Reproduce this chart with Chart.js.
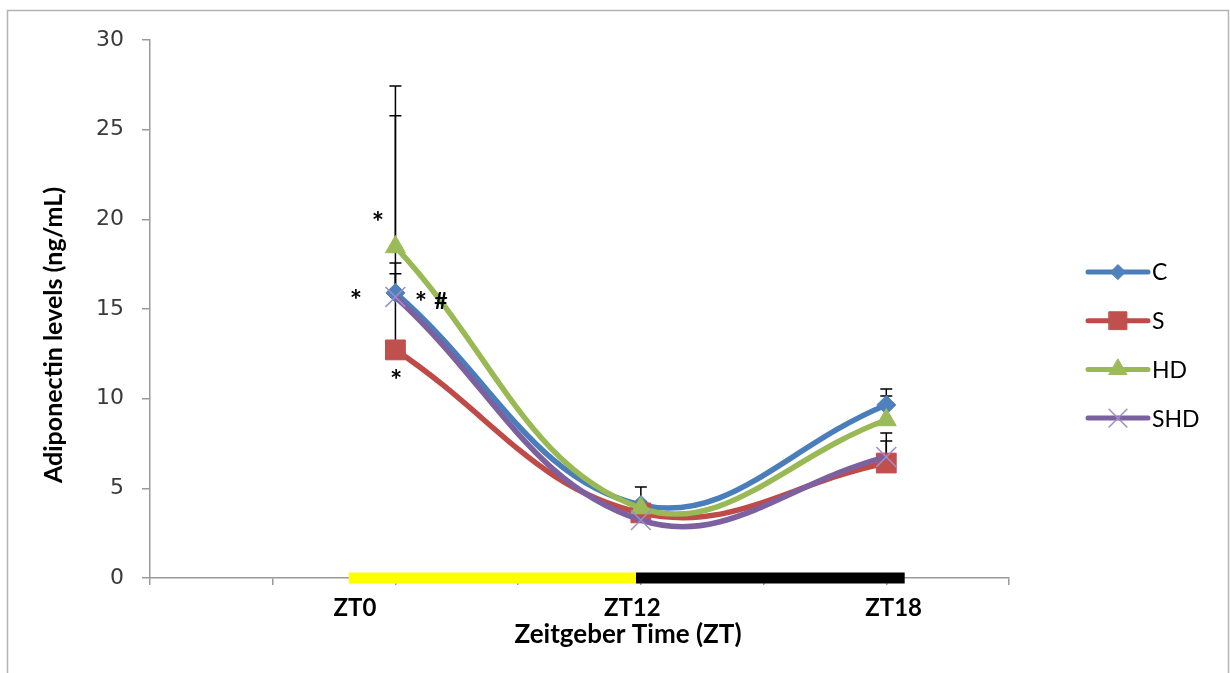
<!DOCTYPE html>
<html>
<head>
<meta charset="utf-8">
<title>Adiponectin levels</title>
<script src="https://cdn.jsdelivr.net/npm/chart.js@4.4.1/dist/chart.umd.min.js"></script>
<style>
  html, body { margin: 0; padding: 0; background: #fff; }
  #wrap { width: 1230px; height: 673px; position: relative; }
</style>
</head>
<body>
<div id="wrap"><canvas id="chart"></canvas></div>
<script>
// x scale runs in slots 0..7; samples sit on slots 2, 4 and 6
const timeSlots = [2, 4, 6];
const timeLabels = ['ZT0', 'ZT12', 'ZT18'];
const timeLabelSlots = [1.67, 3.93, 6.06];

// mean adiponectin (ng/mL) per group
const cValues = [15.9, 4.07, 9.65];
const sValues = [12.72, 3.63, 6.41];
const hdValues = [18.46, 3.9, 8.81];
const shdValues = [15.67, 3.23, 6.75];

// upper error bar lengths
const cErrors = [9.87, 0.2, 0.89];
const sErrors = [4.24, 0.2, 1.23];
const hdErrors = [8.98, 1.17, 1.34];
const shdErrors = [1.9, 0.2, 1.34];

// light / dark phase strip along the time axis
const lightPhase = [1.62, 3.96];
const darkPhase = [3.96, 6.15];

// significance marks (slot, ng/mL)
const marks = [
  { text: '*', x: 1.858, y: 20.19 },
  { text: '*', x: 1.679, y: 15.84 },
  { text: '*', x: 2.208, y: 15.73 },
  { text: '#', x: 2.371, y: 15.39 },
  { text: '*', x: 2.005, y: 11.38 }
];

const series = [
  { label: 'C',   values: cValues,   errors: cErrors,   line: '#4A7EBB', fill: '#4F81BD', mark: '#4F81BD', style: 'rectRot',  radius: 9.5,  markWidth: 1,   order: 4 },
  { label: 'S',   values: sValues,   errors: sErrors,   line: '#BE4B48', fill: '#C0504D', mark: '#C0504D', style: 'rect',     radius: 14,   markWidth: 1,   order: 3 },
  { label: 'HD',  values: hdValues,  errors: hdErrors,  line: '#98B954', fill: '#9BBB59', mark: '#9BBB59', style: 'triangle', radius: 11.5, markWidth: 1,   order: 2 },
  { label: 'SHD', values: shdValues, errors: shdErrors, line: '#7D60A0', fill: '#8064A2', mark: '#A08BCB', style: 'crossRot', radius: 14,   markWidth: 1.5, order: 1 }
];

const lineSets = series.map(s => ({
  label: s.label,
  data: s.values.map((v, i) => ({ x: timeSlots[i], y: v })),
  borderColor: s.line,
  backgroundColor: s.fill,
  borderWidth: 5.5,
  tension: 0.4,
  pointStyle: s.style,
  pointRadius: s.radius,
  pointBackgroundColor: s.fill,
  pointBorderColor: s.mark,
  pointBorderWidth: s.markWidth,
  order: s.order,
  clip: false
}));

const phaseSets = [
  { label: 'light', data: lightPhase.map(x => ({ x, y: 0 })), borderColor: '#FFFF00' },
  { label: 'dark', data: darkPhase.map(x => ({ x, y: 0 })), borderColor: '#000000' }
].map(p => Object.assign(p, {
  borderWidth: 11, pointRadius: 0, tension: 0, clip: false, order: 10, borderCapStyle: 'butt'
}));

// grey frame round the whole figure
const framePlugin = {
  id: 'frame',
  beforeDraw(chart) {
    const ctx = chart.ctx;
    ctx.save();
    ctx.strokeStyle = '#b4b4b4';
    ctx.lineWidth = 1.5;
    ctx.strokeRect(7.5, 10.5, 1221, 700);
    ctx.restore();
  }
};

// upward error bars, drawn under the lines and markers
const errorBarPlugin = {
  id: 'errorBars',
  beforeDatasetsDraw(chart) {
    const { ctx, scales: { x, y } } = chart;
    ctx.save();
    ctx.strokeStyle = '#000';
    ctx.lineWidth = 1.5;
    series.forEach(s => {
      s.values.forEach((v, i) => {
        const px = x.getPixelForValue(timeSlots[i]);
        const y0 = y.getPixelForValue(v);
        const y1 = y.getPixelForValue(v + s.errors[i]);
        ctx.beginPath();
        ctx.moveTo(px, y0);
        ctx.lineTo(px, y1);
        ctx.moveTo(px - 6, y1);
        ctx.lineTo(px + 6, y1);
        ctx.stroke();
      });
    });
    ctx.restore();
  }
};

// asterisks / hash, axis titles and the legend
const decorPlugin = {
  id: 'decor',
  afterDraw(chart) {
    const { ctx, scales: { x, y }, chartArea } = chart;
    ctx.save();
    ctx.fillStyle = '#000';
    ctx.textAlign = 'center';
    ctx.textBaseline = 'middle';
    marks.forEach(m => {
      const star = m.text === '*';
      ctx.font = star ? 'bold 29px Lato' : 'bold 23px Lato';
      ctx.fillText(m.text, x.getPixelForValue(m.x), y.getPixelForValue(m.y) + (star ? 7 : 0));
    });

    // axis titles
    ctx.font = 'bold 26px Lato';
    ctx.fillText('Zeitgeber Time (ZT)', 628, 635);
    ctx.save();
    ctx.translate(54, 335);
    ctx.rotate(-Math.PI / 2);
    ctx.font = 'bold 25px Lato';
    ctx.fillText('Adiponectin levels (ng/mL)', 0, 0);
    ctx.restore();

    // legend: short line with the marker in the middle
    const left = chartArea.right + 79;
    ctx.textAlign = 'left';
    ctx.font = '23px Lato';
    series.forEach((s, i) => {
      const ly = 272 + i * 48.7;
      ctx.strokeStyle = s.line;
      ctx.lineWidth = 5;
      ctx.lineCap = 'round';
      ctx.beginPath();
      ctx.moveTo(left, ly);
      ctx.lineTo(left + 60, ly);
      ctx.stroke();
      ctx.fillStyle = s.fill;
      ctx.strokeStyle = s.mark;
      ctx.lineWidth = s.markWidth;
      Chart.helpers.drawPoint(ctx, {
        pointStyle: s.style,
        radius: s.style === 'rectRot' ? 7.5 : s.radius * 0.9,
        borderWidth: s.markWidth,
        rotation: 0
      }, left + 30, ly);
      ctx.fillStyle = '#000';
      ctx.fillText(s.label, left + 64, ly + 1);
    });
    ctx.restore();
  }
};

const axisGrey = '#9a9a9a';

new Chart(document.getElementById('chart'), {
  type: 'line',
  data: { datasets: [...lineSets, ...phaseSets] },
  options: {
    responsive: true,
    maintainAspectRatio: false,
    animation: false,
    layout: { padding: { top: 40, right: 221, left: 0, bottom: 0 } },
    plugins: { legend: { display: false }, tooltip: { enabled: false } },
    scales: {
      x: {
        type: 'linear', position: 'bottom', weight: 0, min: 0, max: 7,
        ticks: { stepSize: 1, callback: () => '', padding: 0, autoSkip: false },
        grid: { drawOnChartArea: false, drawTicks: true, tickLength: 7, color: axisGrey, lineWidth: 1.5 },
        border: { color: axisGrey, width: 1.5 },
        afterFit: s => { s.height = 8; }
      },
      xl: {
        type: 'linear', position: 'bottom', weight: 1, min: 0, max: 7,
        afterBuildTicks: s => { s.ticks = timeLabelSlots.map(v => ({ value: v })); },
        ticks: {
          callback: (v, i) => timeLabels[i],
          font: { family: 'Lato', weight: 'bold', size: 24 },
          color: '#000', padding: 0, autoSkip: false, maxRotation: 0
        },
        grid: { display: false },
        border: { display: false },
        afterFit: s => { s.height = 87; }
      },
      y: {
        min: 0, max: 30,
        ticks: { stepSize: 5, font: { family: 'DejaVu Sans', size: 22 }, color: '#3a3a3a', padding: 18 },
        grid: { drawOnChartArea: false, tickLength: 8, color: axisGrey, lineWidth: 1.5 },
        border: { color: axisGrey, width: 1.5 },
        afterFit: s => { s.width = 150; }
      }
    }
  },
  plugins: [framePlugin, errorBarPlugin, decorPlugin]
});
</script>
</body>
</html>
